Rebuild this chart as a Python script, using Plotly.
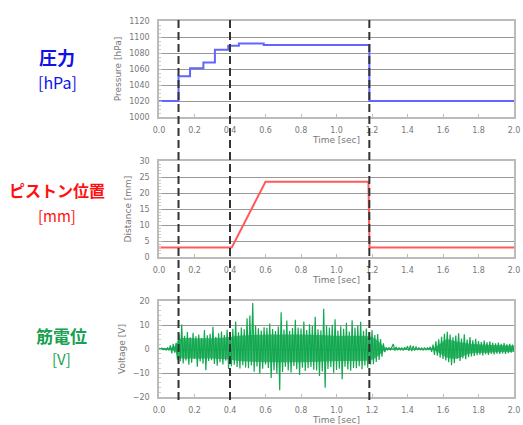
import plotly.graph_objects as go

# ---------------- data ----------------
press_t = [0, 0.11, 0.175, 0.25, 0.315, 0.39, 0.45, 0.59, 1.185, 2.0]
press_v = [1020, 1051, 1061, 1068, 1084, 1089, 1092, 1090, 1020, 1020]

dist_t = [0, 0.41, 0.60, 1.18, 1.186, 2.0]
dist_v = [3, 3, 23.5, 23.5, 3, 3]

emg_dt = 0.008
emg_v = [
    0.3, -0.2, 0.4, -0.3, 0.2, -0.4, 0.5, -0.6,
    1.5, -1.8, 2.2, -1.5, 2.5,
    -4.5, 6.2, -5.1, 10.2, -6.0, 5.5, -4.8, 7.1, -6.5, 4.9, -5.7, 6.8, -4.2, 5.3, -7.4, 6.0,
    -5.2, 4.6, -6.1, 7.9, -8.8, 5.7, -5.0, 6.3, -4.7, 9.3, -6.2, 5.1, -7.0, 6.6, -5.5, 7.3,
    -6.4, 5.8, -4.9, 8.0, -8.3, 6.1,
    -7.2, 8.4, -6.6, 11.5, -7.5, 7.0, -8.1, 9.0, -6.8, 8.2, -7.7, 12.8,
    -8.0, 14.0, -6.9, 19.2, -9.5, 9.8,
    -7.3, 8.6, -10.4, 7.7, -8.2, 9.1, -6.5, 8.8, -7.9, 10.6, -12.1, 8.3, -8.8, 7.5, -10.2, 9.4,
    -17.2, 15.3, -9.6, 8.1, -7.4, 11.9, -8.9, 7.6, -9.8, 8.7, -7.1, 12.2, -8.4, 9.0, -10.8, 8.5,
    -7.8, 11.4, -9.2, 7.9, -8.0, 10.3, -7.5, 9.6, -8.6, 13.4, -9.0, 8.2, -11.2, 7.8, -9.4, 16.8,
    -16.1, 9.7, -8.3, 8.9, -7.6, 10.1, -9.9, 12.4, -8.7, 7.7, -8.2, 9.5, -12.6, 8.4, -7.4, 10.9,
    -8.5, 7.3, -9.1, 12.0, -7.9, 8.8, -8.0, 9.9, -7.2, 11.3, -8.4, 7.6, -6.9, 8.5, -7.8, 7.1,
    -6.5, 7.9,
    -6.3, 5.8, -5.4, 6.2, -4.6, 4.1, -3.2, 2.4, -1.3,
    0.5, -0.4, 0.6, -0.5, 0.8, 2.1, -0.7, 0.9, -0.5, 0.6, -0.4, 0.5, -0.6, 0.7, -0.3, 1.2,
    -0.8, 1.5, -0.9, 1.3, -0.7, 1.0, -0.4, 0.5, -0.3, 0.4, -0.5, 0.6, -0.4, 0.5, -0.3, 0.9,
    -1.2, 1.8,
    -2.5, 3.2, -2.8, 4.0, -3.5, 5.1, -4.2, 6.3, -4.8, 7.2, -5.5, 6.0, -6.8, 4.9, -5.9, 5.6,
    -4.1, 6.5, -5.0, 4.4, -3.8, 6.1, -4.3, 3.9, -3.4,
    5.0, -3.1, 3.6, -2.9, 4.2, -2.6, 3.3, -2.4, 2.9, -2.7, 3.5, -2.2, 2.8, -2.5, 3.1, -2.0,
    2.6, -2.3, 2.4, -1.9, 2.7, -2.1, 2.2, -1.8, 2.5, -2.0, 1.9, -1.7, 2.1, -1.5, 1.8, -1.2,
]
emg_t = [i * emg_dt for i in range(len(emg_v))]

# dense core band of the EMG trace
band_t  = [0.0, 0.06, 0.09, 0.11, 0.2, 0.3, 0.4, 0.45, 0.6, 0.8, 1.0, 1.2, 1.24, 1.27, 1.3, 1.55, 1.58, 1.62, 1.68, 1.75, 1.85, 2.0]
band_hi = [0.4, 0.5, 1.2, 4.0, 4.5, 4.5, 5.0, 5.5, 6.0, 6.0, 5.5, 5.0, 3.0, 0.8, 0.5, 0.6, 2.0, 4.0, 3.0, 2.2, 1.8, 1.4]
band_lo = [-0.3, -0.4, -1.0, -3.5, -4.0, -4.0, -4.5, -5.0, -5.5, -5.5, -5.0, -4.5, -2.5, -0.7, -0.4, -0.5, -1.8, -3.5, -4.0, -2.0, -1.6, -1.1]

event_t = [0.11, 0.40, 1.185]

x_ticks = [0.0, 0.2, 0.4, 0.6, 0.8, 1.0, 1.2, 1.4, 1.6, 1.8, 2.0]
x_ticklabels = ["0.0", "0.2", "0.4", "0.6", "0.8", "1.0", "1.2", "1.4", "1.6", "1.8", "2.0"]

panel_labels = [("圧力", "[hPa]", "#1010e8"),
                ("ピストン位置", "[mm]", "#ff1010"),
                ("筋電位", "[V]", "#17a050")]

# ---------------- figure ----------------
W, H = 523, 425
def px_x(px):
    return px / W
def px_y(px):
    return 1 - px / H

fig = go.Figure()
fig.add_trace(go.Scatter(x=press_t, y=press_v, mode="lines", line=dict(color="#6464ff", width=2, shape="hv"),
                         xaxis="x", yaxis="y", showlegend=False))
fig.add_trace(go.Scatter(x=dist_t, y=dist_v, mode="lines", line=dict(color="#ff5a5a", width=2),
                         xaxis="x2", yaxis="y2", showlegend=False))
fig.add_trace(go.Scatter(x=band_t, y=band_hi, mode="lines", line=dict(width=0, color="#14a64f", shape="spline"),
                         xaxis="x3", yaxis="y3", showlegend=False, hoverinfo="skip"))
fig.add_trace(go.Scatter(x=band_t, y=band_lo, mode="lines", line=dict(width=0, color="#14a64f", shape="spline"),
                         fill="tonexty", fillcolor="rgba(20,166,79,0.75)",
                         xaxis="x3", yaxis="y3", showlegend=False, hoverinfo="skip"))
fig.add_trace(go.Scatter(x=emg_t, y=emg_v, mode="lines", line=dict(color="#12a850", width=1.2),
                         xaxis="x3", yaxis="y3", showlegend=False))

xdom = [px_x(159), px_x(514)]
tickfont = dict(family="DejaVu Sans", size=8, color="#777")
titlefont = dict(family="DejaVu Sans", size=9, color="#777")

def xaxis(anchor):
    return dict(domain=xdom, range=[0, 2.0], anchor=anchor, tickvals=x_ticks, ticktext=x_ticklabels,
                tickfont=tickfont, showgrid=False, zeroline=False, showline=True, linecolor="#bbb",
                linewidth=1.5, mirror=True, ticks="inside", ticklen=3, tickcolor="#bbb",
                ticklabelstandoff=5, automargin=False,
                title=dict(text="Time [sec]", font=titlefont, standoff=0))

def yaxis(anchor, dom, rng, dtick, title, minor_dtick):
    return dict(domain=dom, range=rng, anchor=anchor, dtick=dtick, tick0=rng[0], tickfont=tickfont,
                showgrid=True, gridcolor="#999", gridwidth=1, zeroline=False, showline=True,
                linecolor="#bbb", linewidth=1.5, mirror=True, ticks="inside", ticklen=3, tickcolor="#bbb",
                ticklabelstandoff=6, automargin=False,
                minor=dict(ticks="inside", ticklen=2, dtick=minor_dtick, tickcolor="#ccc", showgrid=False),
                title=dict(text=title, font=titlefont, standoff=6))

fig.update_layout(
    width=W, height=H, margin=dict(l=0, r=0, t=0, b=0),
    paper_bgcolor="white", plot_bgcolor="white",
    xaxis=xaxis("y"), xaxis2=xaxis("y2"), xaxis3=xaxis("y3"),
    yaxis=yaxis("x", [px_y(117), px_y(21)], [1000, 1120], 20, "Pressure [hPa]", 5),
    yaxis2=yaxis("x2", [px_y(257), px_y(161)], [0, 30], 5, "Distance [mm]", 1),
    yaxis3=yaxis("x3", [px_y(397), px_y(301)], [-20, 20], 10, "Voltage [V]", 2),
)

for t in event_t:
    fig.add_shape(type="line", xref="x", yref="paper", x0=t, x1=t, y0=px_y(400), y1=px_y(18),
                  line=dict(color="#333", width=2, dash="8px,4px"), layer="above")

label_pos = [(57, 18, 82, 16), (190, 16, 216, 15), (335, 17, 358, 15)]
label_x = [57, 57, 61]
for (name, unit, col), (y1, s1, y2, s2), lx in zip(panel_labels, label_pos, label_x):
    fig.add_annotation(text=f"<b>{name}</b>", x=px_x(lx), y=px_y(y1), xref="paper", yref="paper",
                       xanchor="center", yanchor="middle",
                       showarrow=False, font=dict(family="Noto Sans CJK JP", size=s1, color=col))
    fig.add_annotation(text=unit, x=px_x(lx), y=px_y(y2), xref="paper", yref="paper",
                       xanchor="center", yanchor="middle",
                       showarrow=False, font=dict(family="Noto Sans CJK JP", size=s2, color=col))

fig.write_html(
    "out.html",
    config={"displayModeBar": False},
    post_script="document.body.style.margin='0';document.documentElement.style.overflow='hidden';",
)
